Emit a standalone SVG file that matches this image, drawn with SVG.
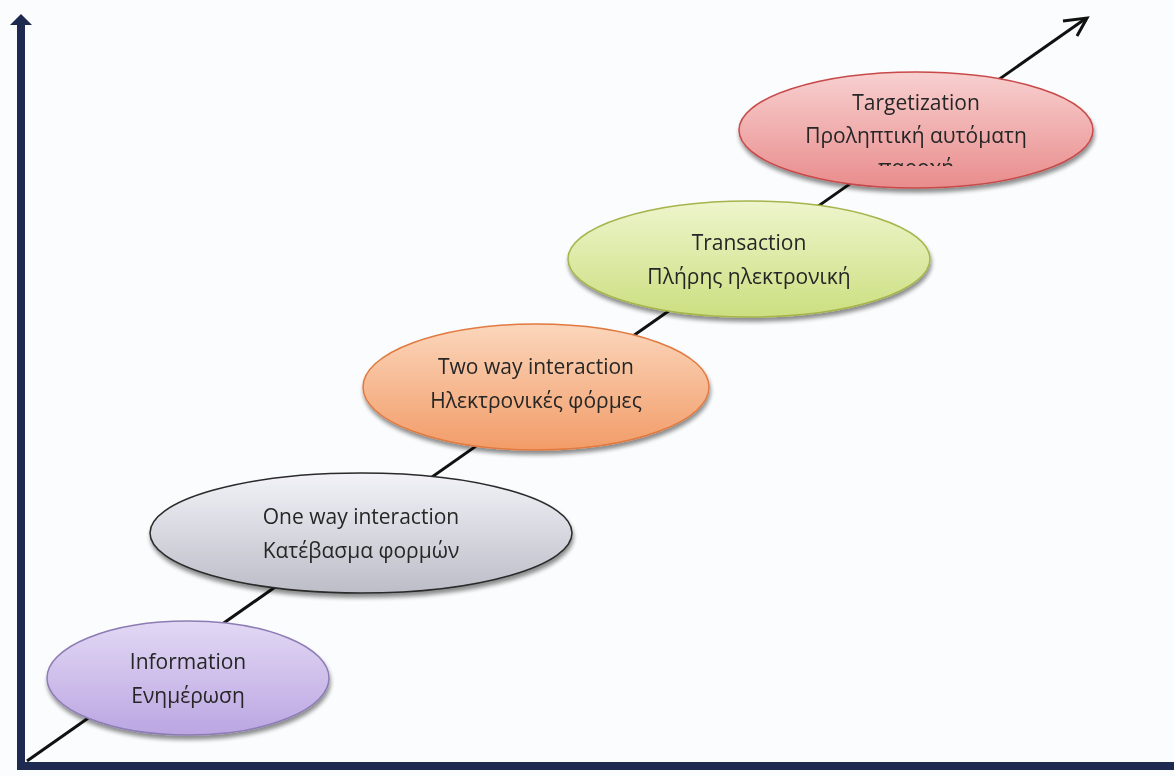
<svg xmlns="http://www.w3.org/2000/svg" width="1174" height="776" viewBox="0 0 1174 776">
<style>
.lbl{font-family:"Open Sans","Liberation Sans",sans-serif;font-size:21px;fill:#262626;text-anchor:middle}
.axis{stroke:#1f2a50;stroke-width:8;fill:none}
.node{filter:url(#sh)}
</style>
<defs>
<filter id="sh" x="-10%" y="-20%" width="120%" height="150%">
<feGaussianBlur in="SourceAlpha" stdDeviation="2"/>
<feOffset dx="1" dy="4" result="o"/>
<feComponentTransfer><feFuncA type="linear" slope="0.45"/></feComponentTransfer>
<feMerge><feMergeNode/><feMergeNode in="SourceGraphic"/></feMerge>
</filter>
<linearGradient id="gP" x1="0" y1="0" x2="0" y2="1"><stop offset="0" stop-color="#e2d8f4"/><stop offset="1" stop-color="#bba6e2"/></linearGradient>
<linearGradient id="gG" x1="0" y1="0" x2="0" y2="1"><stop offset="0" stop-color="#f2f2f8"/><stop offset="1" stop-color="#bdbdc8"/></linearGradient>
<linearGradient id="gO" x1="0" y1="0" x2="0" y2="1"><stop offset="0" stop-color="#fbd6bc"/><stop offset="1" stop-color="#f29c68"/></linearGradient>
<linearGradient id="gY" x1="0" y1="0" x2="0" y2="1"><stop offset="0" stop-color="#eef5cc"/><stop offset="1" stop-color="#cbdf80"/></linearGradient>
<linearGradient id="gR" x1="0" y1="0" x2="0" y2="1"><stop offset="0" stop-color="#f8d0d0"/><stop offset="1" stop-color="#e98c8c"/></linearGradient>
<clipPath id="clipT"><rect x="740" y="70" width="360" height="96"/></clipPath>
</defs>
<rect width="1174" height="776" fill="#fbfcfd"/>
<g id="connectors">
<path class="axis" d="M21 766 V24"/>
<polygon points="21,14 32,25 10,25" fill="#1f2a50"/>
<path class="axis" d="M17 766 H1174"/>
<path d="M27 761 L1085 19" stroke="#111" stroke-width="3" fill="none"/>
<path d="M1063 21 L1087 18 L1077 36" stroke="#111" stroke-width="3" fill="none" stroke-linejoin="miter"/>
</g>
<g id="n1" class="node">
<ellipse cx="188" cy="678" rx="141" ry="57" fill="url(#gP)" stroke="#8c7cb4" stroke-width="1.5"/>
<text class="lbl" x="188" y="669">Information</text>
<text class="lbl" x="188" y="703">Ενημέρωση</text>
</g>
<g id="n2" class="node">
<ellipse cx="361" cy="533" rx="211" ry="60" fill="url(#gG)" stroke="#2a2a2a" stroke-width="1.5"/>
<text class="lbl" x="361" y="524">One way interaction</text>
<text class="lbl" x="361" y="558">Κατέβασμα φορμών</text>
</g>
<g id="n3" class="node">
<ellipse cx="536" cy="387" rx="173" ry="63" fill="url(#gO)" stroke="#e07a40" stroke-width="1.5"/>
<text class="lbl" x="536" y="374">Two way interaction</text>
<text class="lbl" x="536" y="408">Ηλεκτρονικές φόρμες</text>
</g>
<g id="n4" class="node">
<ellipse cx="749" cy="259" rx="181" ry="58" fill="url(#gY)" stroke="#a6b44c" stroke-width="1.5"/>
<text class="lbl" x="749" y="250">Transaction</text>
<text class="lbl" x="749" y="284">Πλήρης ηλεκτρονική</text>
</g>
<g id="n5" class="node">
<ellipse cx="916" cy="130" rx="177" ry="58" fill="url(#gR)" stroke="#c84a4a" stroke-width="1.5"/>
<text class="lbl" x="916" y="110">Targetization</text>
<text class="lbl" x="916" y="143">Προληπτική αυτόματη</text>
<text class="lbl" x="916" y="175" clip-path="url(#clipT)">παροχή</text>
</g>
</svg>
